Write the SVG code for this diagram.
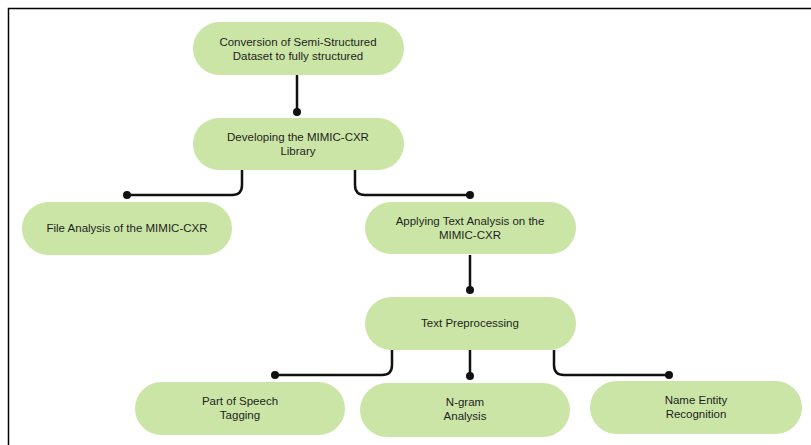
<svg xmlns="http://www.w3.org/2000/svg" width="811" height="445" viewBox="0 0 811 445">
<style>
.node rect{fill:#cbe5a6;}
.node text{font-family:"Liberation Sans",Arial,sans-serif;font-size:11.5px;fill:#1f1f1f;text-anchor:middle;}
.conn path{fill:none;stroke:#111;stroke-width:2.5;}
.conn circle{fill:#111;}
</style>
<rect width="811" height="445" fill="#fff"/>
<path d="M8.5,445 V8.5 H811" fill="none" stroke="#000" stroke-width="1.5"/>
<g class="conn" id="connectors">
<path d="M297,75 V112"/><circle cx="297" cy="112" r="4"/>
<path d="M242,170 V185 Q242,195 232,195 H127"/><circle cx="127" cy="195" r="4"/>
<path d="M355,170 V185 Q355,195 365,195 H470"/><circle cx="470" cy="195" r="4"/>
<path d="M470,255 V290"/><circle cx="470" cy="290" r="4"/>
<path d="M392,350 V365 Q392,375 382,375 H275"/><circle cx="275" cy="375" r="4"/>
<path d="M470,350 V376"/><circle cx="470" cy="376" r="4"/>
<path d="M554,350 V365 Q554,375 564,375 H669"/><circle cx="669" cy="375" r="4"/>
</g>
<g class="node" id="n1"><rect x="193" y="22" width="211" height="53" rx="26.5"/><text x="298" y="46">Conversion of Semi-Structured</text><text x="298" y="60">Dataset to fully structured</text></g>
<g class="node" id="n2"><rect x="193" y="118" width="211" height="52" rx="26"/><text x="298" y="141">Developing the MIMIC-CXR</text><text x="298" y="155">Library</text></g>
<g class="node" id="n3"><rect x="22" y="202" width="210" height="53" rx="26.5"/><text x="127" y="232">File Analysis of the MIMIC-CXR</text></g>
<g class="node" id="n4"><rect x="365" y="202" width="211" height="52" rx="26"/><text x="470" y="225">Applying Text Analysis on the</text><text x="470" y="239">MIMIC-CXR</text></g>
<g class="node" id="n5"><rect x="365" y="297" width="211" height="53" rx="26.5"/><text x="470" y="327">Text Preprocessing</text></g>
<g class="node" id="n6"><rect x="135" y="382" width="210" height="53" rx="26.5"/><text x="240" y="405">Part of Speech</text><text x="240" y="419">Tagging</text></g>
<g class="node" id="n7"><rect x="360" y="383" width="210" height="54" rx="27"/><text x="465" y="406">N-gram</text><text x="465" y="420">Analysis</text></g>
<g class="node" id="n8"><rect x="590" y="381" width="212" height="53" rx="26.5"/><text x="696" y="404">Name Entity</text><text x="696" y="418">Recognition</text></g>
</svg>
